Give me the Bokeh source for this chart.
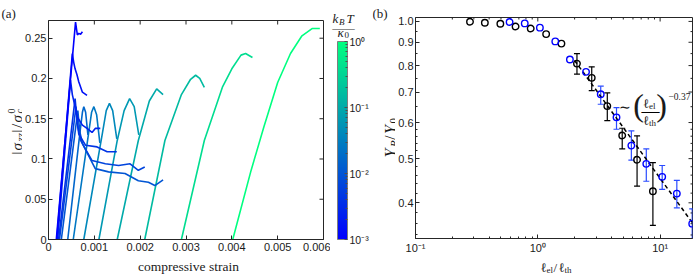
import math
from bokeh.plotting import figure
from bokeh.models import (Range1d, FixedTicker, Label, Whisker, TeeHead, ColumnDataSource,
                          ColorBar, LogColorMapper)
from bokeh.layouts import row, column
from bokeh.embed import file_html
from bokeh.resources import INLINE

# ---------------- panel (a): stress-strain curves ----------------
strain_ticks = [0, 0.001, 0.002, 0.003, 0.004, 0.005, 0.006]
strain_labels = ["0", "0.001", "0.002", "0.003", "0.004", "0.005", "0.006"]
stress_ticks = [0, 0.05, 0.1, 0.15, 0.2, 0.25]
stress_labels = ["0", "0.05", "0.1", "0.15", "0.2", "0.25"]

kT_b1 = 1e-3
strain_b1 = [0.00017, 0.00059, 0.00063, 0.00066, 0.0007, 0.00074]
stress_b1 = [0.0, 0.270, 0.254, 0.256, 0.255, 0.258]

kT_b2 = 1.6e-3
strain_b2 = [0.00018, 0.00052, 0.00055, 0.00058, 0.00062, 0.00066, 0.00074, 0.00084]
stress_b2 = [0.0, 0.231, 0.220, 0.212, 0.205, 0.196, 0.183, 0.179]

kT_b3 = 2.5e-3
strain_b3 = [0.0002, 0.00048, 0.00052, 0.00058, 0.00063, 0.00074, 0.00084, 0.00095, 0.00102, 0.00113]
stress_b3 = [0.0, 0.198, 0.180, 0.165, 0.152, 0.142, 0.138, 0.133, 0.138, 0.138]

kT_b4 = 4e-3
strain_b4 = [0.00022, 0.00058, 0.00062, 0.00066, 0.00081, 0.00106, 0.00128, 0.00149]
stress_b4 = [0.0, 0.175, 0.150, 0.131, 0.117, 0.115, 0.109, 0.109]

kT_b5 = 6.3e-3
strain_b5 = [0.00024, 0.0006, 0.00064, 0.0007, 0.00095, 0.00124, 0.00153, 0.00178, 0.00196, 0.0021]
stress_b5 = [0.0, 0.165, 0.140, 0.123, 0.098, 0.094, 0.092, 0.094, 0.086, 0.090]

kT_b6 = 1e-2
strain_b6 = [0.00028, 0.00064, 0.00068, 0.00074, 0.00102, 0.00131, 0.00167, 0.00196, 0.00218, 0.00232, 0.0025]
stress_b6 = [0.0, 0.160, 0.135, 0.119, 0.088, 0.084, 0.082, 0.073, 0.071, 0.067, 0.074]

kT_c1 = 1.6e-2
strain_c1 = [0.00042, 0.00068, 0.00074, 0.00077, 0.00081, 0.00086]
stress_c1 = [0.0, 0.130, 0.158, 0.165, 0.158, 0.130]

kT_c2 = 2.5e-2
strain_c2 = [0.00054, 0.00087, 0.00094, 0.00099, 0.00105, 0.00112]
stress_c2 = [0.0, 0.130, 0.158, 0.165, 0.155, 0.120]

kT_c3 = 4e-2
strain_c3 = [0.00077, 0.00117, 0.00126, 0.00133, 0.0014, 0.00149]
stress_c3 = [0.0, 0.130, 0.160, 0.169, 0.160, 0.125]

kT_c4 = 6.3e-2
strain_c4 = [0.0011, 0.0015, 0.00165, 0.00177, 0.00187, 0.00197]
stress_c4 = [0.0, 0.123, 0.160, 0.175, 0.165, 0.130]

kT_c5 = 0.1
strain_c5 = [0.0015, 0.00196, 0.0022, 0.00236, 0.0025]
stress_c5 = [0.0, 0.123, 0.172, 0.187, 0.180]

kT_c6 = 0.16
strain_c6 = [0.0021, 0.00254, 0.0029, 0.0031, 0.00321, 0.0033, 0.0034]
stress_c6 = [0.0, 0.123, 0.180, 0.199, 0.204, 0.200, 0.189]

kT_c7 = 0.4
strain_c7 = [0.0029, 0.0034, 0.0038, 0.004, 0.0042, 0.0043, 0.00445]
stress_c7 = [0.0, 0.123, 0.190, 0.212, 0.229, 0.231, 0.226]

kT_c8 = 1.0
strain_c8 = [0.00402, 0.00442, 0.0047, 0.005, 0.00528, 0.00553, 0.00575, 0.00592]
stress_c8 = [0.0, 0.0858, 0.140, 0.195, 0.231, 0.253, 0.262, 0.262]

curves = [
    (kT_c8, strain_c8, stress_c8), (kT_c7, strain_c7, stress_c7),
    (kT_c6, strain_c6, stress_c6), (kT_c5, strain_c5, stress_c5),
    (kT_c4, strain_c4, stress_c4), (kT_c3, strain_c3, stress_c3),
    (kT_c2, strain_c2, stress_c2), (kT_c1, strain_c1, stress_c1),
    (kT_b6, strain_b6, stress_b6), (kT_b5, strain_b5, stress_b5),
    (kT_b4, strain_b4, stress_b4), (kT_b3, strain_b3, stress_b3),
    (kT_b2, strain_b2, stress_b2), (kT_b1, strain_b1, stress_b1),
]

cb_ticks = [0.001, 0.01, 0.1, 1.0]
cb_labels = ["10\u207b\u00b3", "10\u207b\u00b2", "10\u207b\u00b9", "10\u2070"]
cb_minor = [0.002, 0.003, 0.004, 0.005, 0.006, 0.007, 0.008, 0.009,
            0.02, 0.03, 0.04, 0.05, 0.06, 0.07, 0.08, 0.09,
            0.2, 0.3, 0.4, 0.5, 0.6, 0.7, 0.8, 0.9]

# ---------------- panel (b): Y_R/Y_0 vs l_el/l_th ----------------
black_x = [0.279, 0.369, 0.494, 0.658, 0.875, 1.17, 1.56, 2.09, 2.76, 3.70, 4.90, 6.48, 8.73]
black_y = [0.998, 0.993, 0.988, 0.975, 0.965, 0.938, 0.894, 0.808, 0.752, 0.652, 0.562, 0.497, 0.424]
black_err_x = [2.09, 2.76, 3.70, 4.90, 6.48, 8.73]
black_err_lo = [0.766, 0.705, 0.606, 0.525, 0.435, 0.357]
black_err_hi = [0.850, 0.795, 0.697, 0.583, 0.561, 0.490]

blue_x = [0.588, 0.782, 1.04, 1.39, 1.83, 2.48, 3.27, 4.40, 5.82, 7.71, 10.4, 13.7, 18.3]
blue_y = [0.997, 0.990, 0.969, 0.904, 0.825, 0.775, 0.692, 0.616, 0.534, 0.487, 0.456, 0.419, 0.360]
blue_err_x = [3.27, 4.40, 5.82, 7.71, 10.4, 13.7, 18.3]
blue_err_lo = [0.658, 0.580, 0.496, 0.446, 0.428, 0.390, 0.320]
blue_err_hi = [0.721, 0.647, 0.575, 0.525, 0.483, 0.448, 0.388]

fit_x = [2.0, 18.3]
fit_y = [0.821, 0.362]

lx_ticks = [0.1, 1.0, 10.0]
lx_labels = ["10\u207b\u00b9", "10\u2070", "10\u00b9"]
lx_minor = [0.2, 0.3, 0.4, 0.5, 0.6, 0.7, 0.8, 0.9, 2, 3, 4, 5, 6, 7, 8, 9]
ly_ticks = [0.4, 0.5, 0.6, 0.7, 0.8, 0.9, 1.0]
ly_labels = ["0.4", "0.5", "0.6", "0.7", "0.8", "0.9", "1.0"]
ly_minor = [0.34, 0.36, 0.38, 0.42, 0.44, 0.46, 0.48, 0.52, 0.54, 0.56, 0.58,
            0.65, 0.75, 0.85, 0.95]

# ---------------- styling helpers ----------------
AXC = "#262626"
TXT = "#1a1a1a"
SERIF = "Liberation Serif"
SANS = "Liberation Sans"
HTOT = 274


def winter(kT):
    t = (math.log10(kT) + 3.0) / 3.0
    t = min(max(t, 0.0), 1.0)
    return "#%02x%02x%02x" % (0, round(255 * t), round(255 * (1 - 0.5 * t)))


def hide_title(fig):
    if fig.title is not None:
        fig.title.visible = False


def style_axis(ax, ticker, labels, size="11px", standoff=3):
    ax.ticker = ticker
    ax.axis_label = None
    ax.axis_label_standoff = 0
    ax.axis_line_color = AXC
    ax.major_tick_line_color = AXC
    ax.minor_tick_line_color = AXC
    ax.major_tick_in = 4
    ax.major_tick_out = 0
    ax.minor_tick_in = 2
    ax.minor_tick_out = 0
    ax.major_label_text_font = SANS
    ax.major_label_text_color = TXT
    ax.major_label_text_font_size = size
    ax.major_label_standoff = standoff
    ax.major_label_overrides = labels


def box_ticks(fig, xmaj, xmin, ymaj, ymin, xtop, yright):
    # inward tick marks on the top and right edges of the frame (MATLAB box)
    fig.ray(x=xmaj, y=[xtop] * len(xmaj), length=4, length_units="screen",
            angle=-math.pi / 2, line_color=AXC, line_width=1)
    fig.ray(x=[yright] * len(ymaj), y=ymaj, length=4, length_units="screen",
            angle=math.pi, line_color=AXC, line_width=1)
    if xmin:
        fig.ray(x=xmin, y=[xtop] * len(xmin), length=2, length_units="screen",
                angle=-math.pi / 2, line_color=AXC, line_width=1)
    if ymin:
        fig.ray(x=[yright] * len(ymin), y=ymin, length=2, length_units="screen",
                angle=math.pi, line_color=AXC, line_width=1)


def text_strip(width, height):
    f = figure(width=width, height=height, x_range=Range1d(0, 1), y_range=Range1d(0, 1),
               x_axis_type=None, y_axis_type=None, min_border=0,
               output_backend="svg", toolbar_location=None)
    f.outline_line_color = None
    f.grid.visible = False
    hide_title(f)
    return f


def put(fig, text, sx, sy, size, italic=False, angle=0.0, align="left",
        baseline="alphabetic", color=TXT, font=SERIF):
    fig.add_layout(Label(x=sx, y=sy, x_units="screen", y_units="screen", text=text,
                         text_font=font, text_font_size=f"{size}px",
                         text_font_style="italic" if italic else "normal",
                         angle=angle, text_align=align, text_baseline=baseline,
                         text_color=color))


def compose(fig, pieces, sx, sy, vertical=False):
    # pieces: (text, size, shift_down, italic, advance)
    pos = 0.0
    for text, size, shift, italic, adv in pieces:
        if vertical:
            put(fig, text, sx + shift, sy + pos, size, italic, angle=math.pi / 2)
        else:
            put(fig, text, sx + pos, sy - shift, size, italic)
        pos += adv


# ---------------- figure (a) ----------------
pa = figure(width=308, height=256, x_range=Range1d(0, 0.006), y_range=Range1d(0, 0.272),
            output_backend="svg", toolbar_location=None,
            min_border_left=24, min_border_right=7, min_border_top=20, min_border_bottom=17)
hide_title(pa)
pa.grid.visible = False
pa.outline_line_color = AXC
style_axis(pa.xaxis[0], FixedTicker(ticks=strain_ticks, minor_ticks=[]),
           dict(zip(strain_ticks, strain_labels)), standoff=3)
style_axis(pa.yaxis[0], FixedTicker(ticks=stress_ticks, minor_ticks=[]),
           dict(zip(stress_ticks, stress_labels)), standoff=2)

for kT, xs, ys in curves:
    pa.line(xs, ys, line_color=winter(kT), line_width=1.6)

box_ticks(pa, strain_ticks[1:-1], [], stress_ticks[1:], [], 0.272, 0.006)

a_left = text_strip(22, HTOT)
put(a_left, "(a)", 1, HTOT - 13, 13)
compose(a_left, [("|", 15, 0, False, 4.0), ("\u03c3", 15, 0, True, 9.0),
                 ("zz", 11, 3, True, 9.0), ("|", 15, 0, False, 4.5),
                 ("/", 15, 0, False, 5.5), ("\u03c3", 15, 0, True, 9.0),
                 ("c", 10, 2.5, True, 0.0), ("0", 10, -5, False, 5.5)],
        16, HTOT - 154, vertical=True)

# strip below panel (a): its frame lines up with the frame of panel (a)
a_bottom = text_strip(308, HTOT - 256)
put(a_bottom, "compressive strain", 140, 8, 13.5, align="center")

# ---------------- colour bar (own canvas, frame = whole canvas) ----------------
pc = text_strip(42, HTOT)
winter_palette = [winter(10 ** (-3 + 3 * i / 255)) for i in range(256)]
cmap = LogColorMapper(palette=winter_palette, low=1e-3, high=1.0)
cbar = ColorBar(color_mapper=cmap, location=(7, 35), width=10, height=198,
                padding=0, margin=0, label_standoff=2,
                ticker=FixedTicker(ticks=cb_ticks, minor_ticks=cb_minor),
                major_label_overrides=dict(zip(cb_ticks, cb_labels)),
                major_label_text_font=SANS, major_label_text_font_size="10.5px",
                major_label_text_color=TXT,
                major_tick_in=3, major_tick_out=0, minor_tick_in=2, minor_tick_out=0,
                major_tick_line_color="#4d4d4d", minor_tick_line_color="#4d4d4d",
                bar_line_color="#7f7f7f", border_line_color=None,
                background_fill_alpha=0.0)
pc.add_layout(cbar)
put(pc, "k", 2, HTOT - 18, 13, italic=True)
put(pc, "B", 8.5, HTOT - 21, 9, italic=True)
put(pc, "T", 16, HTOT - 18, 13, italic=True)
put(pc, "\u2014", 13, HTOT - 27.3, 22, align="center", color="#8c8c8c")
put(pc, "\u03ba", 7, HTOT - 32, 13, italic=True)
put(pc, "0", 14, HTOT - 34.5, 9)

# ---------------- figure (b) ----------------
pb = figure(width=302, height=256, x_axis_type="log", y_axis_type="log",
            x_range=Range1d(0.1, 18.4), y_range=Range1d(0.334, 1.02),
            output_backend="svg", toolbar_location=None,
            min_border_left=18, min_border_right=5, min_border_top=17, min_border_bottom=17)
hide_title(pb)
pb.grid.visible = False
pb.outline_line_color = AXC
style_axis(pb.xaxis[0], FixedTicker(ticks=lx_ticks, minor_ticks=lx_minor),
           dict(zip(lx_ticks, lx_labels)), standoff=3)
style_axis(pb.yaxis[0], FixedTicker(ticks=ly_ticks, minor_ticks=ly_minor),
           dict(zip(ly_ticks, ly_labels)), standoff=2)
box_ticks(pb, lx_ticks[1:], lx_minor, ly_ticks, ly_minor, 1.02, 18.4)

BLUE = "#0000ff"
BLUE_BAR = "#2a4bff"
src_be = ColumnDataSource(dict(x=black_err_x, lo=black_err_lo, hi=black_err_hi))
src_ue = ColumnDataSource(dict(x=blue_err_x, lo=blue_err_lo, hi=blue_err_hi))
for src, col in ((src_be, "black"), (src_ue, BLUE_BAR)):
    pb.add_layout(Whisker(source=src, base="x", lower="lo", upper="hi", dimension="height",
                          line_color=col, line_width=1.2, level="underlay",
                          upper_head=TeeHead(size=6, line_color=col, line_width=1.2),
                          lower_head=TeeHead(size=6, line_color=col, line_width=1.2)))

pb.line(fit_x, fit_y, line_color="black", line_width=1.5, line_dash="4 3")
pb.scatter(black_x, black_y, marker="circle", size=6.5, fill_color=None,
           line_color="black", line_width=1.4)
pb.scatter(blue_x, blue_y, marker="circle", size=6.5, fill_color=None,
           line_color=BLUE, line_width=1.4)

# annotation ~ (l_el / l_th)^-0.37 (inside the frame)
put(pb, "\u223c", 209, 131.5, 14, align="center", baseline="middle")
put(pb, "(", 223, 134, 32, align="center", baseline="middle")
put(pb, "\u2113", 227.5, 135, 13)
put(pb, "el", 233.5, 132.5, 9)
put(pb, "\u2014", 235, 127.5, 18, align="center", color="black")
put(pb, "\u2113", 227.5, 118, 13)
put(pb, "th", 233.5, 115.5, 9)
put(pb, ")", 246, 134, 32, align="center", baseline="middle")
put(pb, "\u22120.37", 253, 142, 9.5)

b_left = text_strip(23, HTOT)
put(b_left, "(b)", 0, HTOT - 13, 13)
compose(b_left, [("Y", 16, 0, True, 10.5), ("R", 11, 3, True, 7.0),
                 ("/", 16, 0, False, 6.0), ("Y", 16, 0, True, 10.5),
                 ("0", 11, 3, False, 5.5)], 18, HTOT - 157, vertical=True)

# strip below panel (b): its frame lines up with the frame of panel (b)
b_bottom = text_strip(302, HTOT - 256)
compose(b_bottom, [("\u2113", 13, 0, False, 6.0), ("el", 9, 3, False, 7.0),
                   ("/", 13, 0, False, 5.0), ("\u2113", 13, 0, False, 6.0),
                   ("th", 9, 3, False, 7.0)], 125, 7.5)

layout = row(a_left, column(pa, a_bottom), pc, b_left, column(pb, b_bottom))
open("out.html", "w").write(file_html(layout, INLINE))
